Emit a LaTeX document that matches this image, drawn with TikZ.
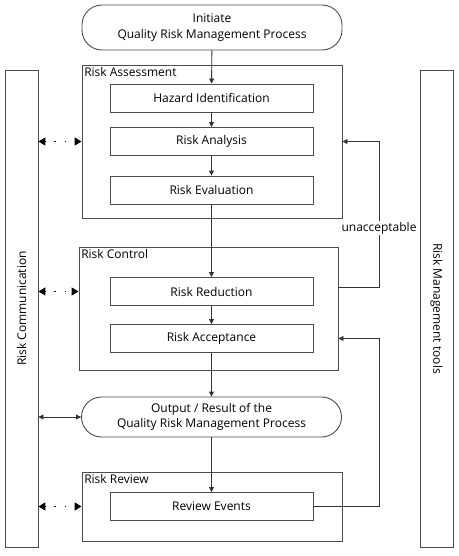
\documentclass[tikz,border=0pt]{standalone}
\usepackage{fontspec}
\setmainfont{Open Sans}
\usetikzlibrary{arrows.meta}
\tikzset{
  stepbox/.style={draw=black!70, line width=0.9pt, minimum width=203pt, minimum height=28pt, inner sep=0pt},
  groupbox/.style={draw=black!70, line width=0.9pt, inner sep=0pt},
  terminal/.style={draw=black!70, line width=0.9pt, rounded corners=20pt, minimum width=260pt, inner sep=0pt, align=center},
  sidebar/.style={draw=black!70, line width=0.9pt, minimum width=33pt, minimum height=477pt, inner sep=0pt},
  flow/.style={draw=black!80, line width=0.9pt, -{Triangle[length=5pt,width=5pt]}},
  talk/.style={draw=black, line width=1.4pt, dash pattern=on 1.4pt off 9.1pt, dash phase=1.2pt, {Triangle[length=7pt,width=8pt]}-{Triangle[length=7pt,width=8pt]}},
}
\begin{document}
\begin{tikzpicture}[x=1pt, y=-1pt, font=\fontsize{12}{15.5}\selectfont]
\useasboundingbox (0,0) rectangle (458,556);
% side bars
\node[sidebar] (comm) at (21.5,308.5) {};
\node[rotate=90] at (comm.center) {Risk Communication};
\node[sidebar] (tools) at (436.5,308.5) {};
\node[rotate=-90] at (tools.center) {Risk Management tools};
% groups
\node[groupbox, minimum width=260pt, minimum height=153pt] (assess) at (212,141.5) {};
\node[anchor=north west, inner sep=2.5pt] at (assess.north west) {Risk Assessment};
\node[groupbox, minimum width=259pt, minimum height=123pt] (control) at (208.5,308.5) {};
\node[anchor=north west, inner sep=2.5pt] at (control.north west) {Risk Control};
\node[groupbox, minimum width=260pt, minimum height=69pt] (rreview) at (212,506.5) {};
\node[anchor=north west, inner sep=2.5pt] at (rreview.north west) {Risk Review};
% process steps
\node[terminal, minimum height=45pt] (start) at (212,27.5) {Initiate\\Quality Risk Management Process};
\node[stepbox] (hazard) at (211.5,98) {Hazard Identification};
\node[stepbox] (analysis) at (211.5,141.5) {Risk Analysis};
\node[stepbox] (evaluation) at (211.5,190) {Risk Evaluation};
\node[stepbox] (reduction) at (211.5,291.5) {Risk Reduction};
\node[stepbox] (acceptance) at (211.5,338.5) {Risk Acceptance};
\node[terminal, minimum height=40pt] (output) at (211.5,417) {Output / Result of the\\Quality Risk Management Process};
\node[stepbox] (events) at (211.5,506.5) {Review Events};
% main flow
\draw[flow] (start) -- (hazard);
\draw[flow] (hazard) -- (analysis);
\draw[flow] (analysis) -- (evaluation);
\draw[flow] (evaluation) -- (reduction);
\draw[flow] (reduction) -- (acceptance);
\draw[flow] (acceptance) -- (output);
\draw[flow] (output) -- (events);
% feedback loops
\coordinate (loop) at (379,287);
\draw[flow] (control.east |- loop) -- (loop) -- (loop |- analysis) -- (analysis -| assess.east);
\node[fill=white, inner sep=1pt] (unacc) at (379,228) {unacceptable};
\draw[flow] (events.east) -| (loop |- acceptance) -- (acceptance -| control.east);
% communication
\draw[talk] (comm.east |- analysis) -- (analysis -| assess.west);
\draw[talk] (comm.east |- reduction) -- (reduction -| control.west);
\draw[talk] (comm.east |- events) -- (events -| rreview.west);
\draw[draw=black!80, line width=0.9pt, {Triangle[length=5pt,width=5pt]}-{Triangle[length=5pt,width=5pt]}] (comm.east |- output) -- (output.west);
\end{tikzpicture}
\end{document}
